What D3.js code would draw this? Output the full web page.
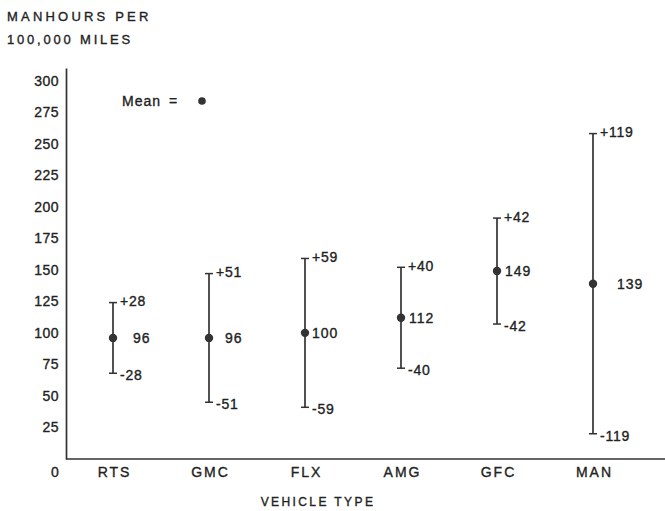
<!DOCTYPE html>
<html>
<head>
<meta charset="utf-8">
<script src="https://cdn.jsdelivr.net/npm/d3@7"></script>
<style>
  body { margin: 0; background: #fff; }
  svg text {
    font-family: "Liberation Sans", Arial, sans-serif;
    fill: #222;
    stroke: #222;
    stroke-width: 0.35px;
  }
</style>
</head>
<body>
<div class="chart"></div>
<script>
// vehicle types and their mean manhours, with +/- spread
const vehicles = ["RTS", "GMC", "FLX", "AMG", "GFC", "MAN"];
const means = [96, 96, 100, 112, 149, 139];
const spreads = [28, 51, 59, 40, 42, 119];
const yTicks = [25, 50, 75, 100, 125, 150, 175, 200, 225, 250, 275, 300];

// how far the mean number sits to the right of its dot (layout only)
const meanLabelDx = [20, 16, 7, 8, 8, 24];

const width = 665;
const height = 511;

const svg = d3.select(".chart")
    .append("svg")
    .attr("width", width)
    .attr("height", height);

svg.append("rect")
    .attr("width", width)
    .attr("height", height)
    .attr("fill", "#fff");

const x = d3.scalePoint()
    .domain(vehicles)
    .range([113, 593]);

// domain runs a bit past 300 so the axis line sticks up above the top label
const y = d3.scaleLinear()
    .domain([0, 310])
    .range([459, 68]);

// y axis
const yAxis = svg.append("g")
    .attr("transform", "translate(66,0)")
    .call(d3.axisLeft(y).tickValues(yTicks).tickSize(0).tickPadding(7));
yAxis.select(".domain").attr("stroke", "#333").attr("stroke-width", 1.7);
yAxis.selectAll("text")
    .style("font-size", "14px")
    .style("letter-spacing", "0.5px")
    .attr("fill", "#222");

// x axis: line across the full width, labels under each vehicle
svg.append("line")
    .attr("x1", 66).attr("x2", width)
    .attr("y1", y(0)).attr("y2", y(0))
    .attr("stroke", "#333")
    .attr("stroke-width", 1.7);

const xAxis = svg.append("g")
    .attr("transform", `translate(1,${y(0)})`)
    .call(d3.axisBottom(x).tickSize(0).tickPadding(8));
xAxis.select(".domain").remove();
xAxis.selectAll("text")
    .style("font-size", "14px")
    .style("letter-spacing", "2px")
    .attr("fill", "#222");

svg.append("text")
    .attr("x", 55)
    .attr("y", y(0) + 8)
    .attr("dy", "0.71em")
    .attr("text-anchor", "middle")
    .style("font-size", "14px")
    .text("0");

// titles
svg.append("text")
    .attr("x", 7).attr("y", 21)
    .style("font-size", "13px")
    .style("letter-spacing", "3.2px")
    .text("MANHOURS PER");
svg.append("text")
    .attr("x", 7).attr("y", 44)
    .style("font-size", "13px")
    .style("letter-spacing", "2.8px")
    .text("100,000 MILES");
svg.append("text")
    .attr("x", 318).attr("y", 506)
    .attr("text-anchor", "middle")
    .style("font-size", "12px")
    .style("letter-spacing", "2.4px")
    .text("VEHICLE TYPE");

// legend for the mean marker
svg.append("text")
    .attr("x", 122).attr("y", 106)
    .style("font-size", "14px")
    .style("letter-spacing", "1px")
    .style("word-spacing", "3px")
    .text("Mean =");
svg.append("circle")
    .attr("cx", 202).attr("cy", 101)
    .attr("r", 3.8)
    .attr("fill", "#333");

const rows = vehicles.map((v, i) => ({
    name: v, mean: means[i], spread: spreads[i], dx: meanLabelDx[i]
}));

const bars = svg.append("g")
    .selectAll("g")
    .data(rows)
    .enter()
    .append("g");

// vertical range line
bars.append("line")
    .attr("x1", d => x(d.name)).attr("x2", d => x(d.name))
    .attr("y1", d => y(d.mean + d.spread))
    .attr("y2", d => y(d.mean - d.spread))
    .attr("stroke", "#333")
    .attr("stroke-width", 1.7);

// caps
bars.append("line")
    .attr("x1", d => x(d.name) - 4).attr("x2", d => x(d.name) + 4)
    .attr("y1", d => y(d.mean + d.spread))
    .attr("y2", d => y(d.mean + d.spread))
    .attr("stroke", "#333")
    .attr("stroke-width", 1.5);
bars.append("line")
    .attr("x1", d => x(d.name) - 4).attr("x2", d => x(d.name) + 4)
    .attr("y1", d => y(d.mean - d.spread))
    .attr("y2", d => y(d.mean - d.spread))
    .attr("stroke", "#333")
    .attr("stroke-width", 1.5);

bars.append("circle")
    .attr("cx", d => x(d.name))
    .attr("cy", d => y(d.mean))
    .attr("r", 4.2)
    .attr("fill", "#333");

bars.append("text")
    .attr("x", d => x(d.name) + 7)
    .attr("y", d => y(d.mean + d.spread))
    .attr("dy", "0.25em")
    .style("font-size", "14px")
    .style("letter-spacing", "0.8px")
    .text(d => "+" + d.spread);

bars.append("text")
    .attr("x", d => x(d.name) + 7)
    .attr("y", d => y(d.mean - d.spread))
    .attr("dy", "0.5em")
    .style("font-size", "14px")
    .style("letter-spacing", "0.8px")
    .text(d => "-" + d.spread);

bars.append("text")
    .attr("x", d => x(d.name) + d.dx)
    .attr("y", d => y(d.mean))
    .attr("dy", "0.36em")
    .style("font-size", "14px")
    .style("letter-spacing", "1px")
    .text(d => d.mean);
</script>
</body>
</html>
